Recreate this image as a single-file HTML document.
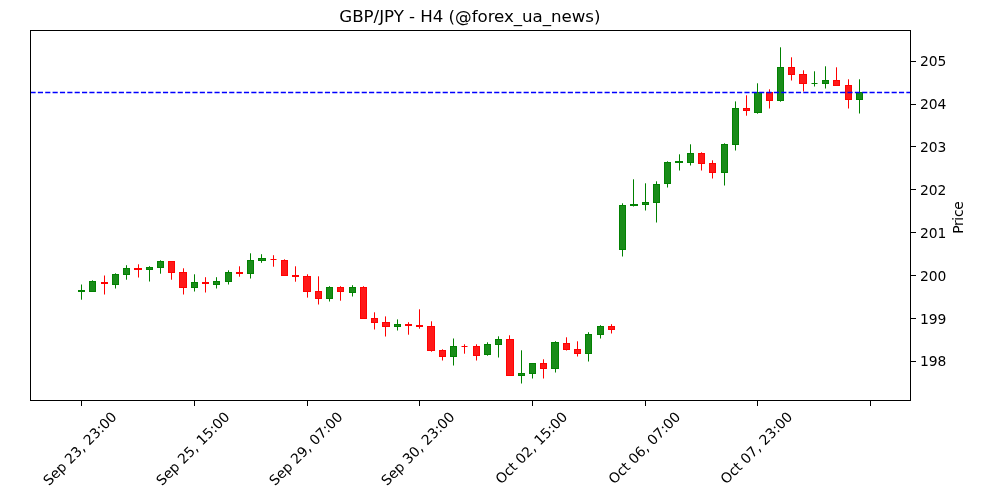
<!DOCTYPE html>
<html lang="en">
<head>
<meta charset="utf-8">
<title>GBP/JPY - H4 (@forex_ua_news)</title>
<style>html,body{margin:0;padding:0;background:#fff;}body{width:1000px;height:500px;overflow:hidden;}</style>
</head>
<body>
<svg width="1000" height="500" viewBox="0 0 1000 500" style="display:block">
<rect x="0" y="0" width="1000" height="500" fill="#ffffff"/>
<g>
<rect x="81" y="284.5" width="1" height="15.2" fill="#008000"/>
<rect x="92" y="280.3" width="1" height="11.7" fill="#008000"/>
<rect x="104" y="275.5" width="1" height="19" fill="#ff0000"/>
<rect x="115" y="273.3" width="1" height="15.2" fill="#008000"/>
<rect x="126" y="265.2" width="1" height="14.5" fill="#008000"/>
<rect x="138" y="264.3" width="1" height="13.2" fill="#ff0000"/>
<rect x="149" y="266.2" width="1" height="15.3" fill="#008000"/>
<rect x="160" y="260.3" width="1" height="13.4" fill="#008000"/>
<rect x="171" y="261" width="1" height="18.7" fill="#ff0000"/>
<rect x="183" y="268.3" width="1" height="26.2" fill="#ff0000"/>
<rect x="194" y="274.3" width="1" height="17.2" fill="#008000"/>
<rect x="205" y="277.2" width="1" height="15.3" fill="#ff0000"/>
<rect x="216" y="277.2" width="1" height="11.3" fill="#008000"/>
<rect x="228" y="270.3" width="1" height="14.2" fill="#008000"/>
<rect x="239" y="266.3" width="1" height="10.4" fill="#ff0000"/>
<rect x="250" y="253.3" width="1" height="25.2" fill="#008000"/>
<rect x="261" y="254.2" width="1" height="8.6" fill="#008000"/>
<rect x="273" y="255.2" width="1" height="11.5" fill="#ff0000"/>
<rect x="270.5" y="259" width="6" height="1" fill="#ff0202"/>
<rect x="284" y="259.3" width="1" height="16.7" fill="#ff0000"/>
<rect x="295" y="266.3" width="1" height="15.4" fill="#ff0000"/>
<rect x="307" y="274.3" width="1" height="23.3" fill="#ff0000"/>
<rect x="318" y="276.3" width="1" height="28.2" fill="#ff0000"/>
<rect x="329" y="286.2" width="1" height="15.3" fill="#008000"/>
<rect x="340" y="286.2" width="1" height="14.5" fill="#ff0000"/>
<rect x="352" y="285.2" width="1" height="11.3" fill="#008000"/>
<rect x="363" y="286.2" width="1" height="32.8" fill="#ff0000"/>
<rect x="374" y="312.3" width="1" height="17.2" fill="#ff0000"/>
<rect x="385" y="316.4" width="1" height="20.1" fill="#ff0000"/>
<rect x="397" y="319.4" width="1" height="11.1" fill="#008000"/>
<rect x="408" y="322.2" width="1" height="12.5" fill="#ff0000"/>
<rect x="419" y="309.3" width="1" height="19.4" fill="#ff0000"/>
<rect x="431" y="321.3" width="1" height="30.4" fill="#ff0000"/>
<rect x="442" y="349.3" width="1" height="11.2" fill="#ff0000"/>
<rect x="453" y="338.5" width="1" height="27" fill="#008000"/>
<rect x="464" y="344.3" width="1" height="9.4" fill="#ff0000"/>
<rect x="461.5" y="346" width="6" height="1" fill="#ff0202"/>
<rect x="476" y="344.3" width="1" height="16.2" fill="#ff0000"/>
<rect x="487" y="342.3" width="1" height="13.4" fill="#008000"/>
<rect x="498" y="336.3" width="1" height="21.2" fill="#008000"/>
<rect x="509" y="335.3" width="1" height="40.7" fill="#ff0000"/>
<rect x="521" y="350.3" width="1" height="33.2" fill="#008000"/>
<rect x="532" y="363" width="1" height="15.5" fill="#008000"/>
<rect x="543" y="359.3" width="1" height="19.2" fill="#ff0000"/>
<rect x="555" y="341.2" width="1" height="31.3" fill="#008000"/>
<rect x="566" y="337.3" width="1" height="13.2" fill="#ff0000"/>
<rect x="577" y="341.3" width="1" height="15.2" fill="#ff0000"/>
<rect x="588" y="332.2" width="1" height="29.3" fill="#008000"/>
<rect x="600" y="325.2" width="1" height="13.3" fill="#008000"/>
<rect x="611" y="324.2" width="1" height="9.3" fill="#ff0000"/>
<rect x="622" y="203.3" width="1" height="53.2" fill="#008000"/>
<rect x="633" y="179.3" width="1" height="27.2" fill="#008000"/>
<rect x="645" y="183.3" width="1" height="27.2" fill="#008000"/>
<rect x="656" y="181.3" width="1" height="41.2" fill="#008000"/>
<rect x="667" y="161.3" width="1" height="26.2" fill="#008000"/>
<rect x="679" y="154.3" width="1" height="16.2" fill="#008000"/>
<rect x="690" y="144.3" width="1" height="21.2" fill="#008000"/>
<rect x="701" y="152.3" width="1" height="18.2" fill="#ff0000"/>
<rect x="712" y="160.3" width="1" height="18.2" fill="#ff0000"/>
<rect x="724" y="143.3" width="1" height="42.2" fill="#008000"/>
<rect x="735" y="101.4" width="1" height="49.1" fill="#008000"/>
<rect x="746" y="95.3" width="1" height="20.4" fill="#ff0000"/>
<rect x="757" y="83.3" width="1" height="30.4" fill="#008000"/>
<rect x="769" y="89.3" width="1" height="19.2" fill="#ff0000"/>
<rect x="780" y="47.3" width="1" height="54.4" fill="#008000"/>
<rect x="791" y="57.3" width="1" height="23.2" fill="#ff0000"/>
<rect x="803" y="70.3" width="1" height="21.2" fill="#ff0000"/>
<rect x="814" y="71.3" width="1" height="15.2" fill="#008000"/>
<rect x="811.5" y="83" width="6" height="1" fill="#028102"/>
<rect x="825" y="66.3" width="1" height="22.2" fill="#008000"/>
<rect x="836" y="67.3" width="1" height="18.7" fill="#ff0000"/>
<rect x="848" y="79.3" width="1" height="29.2" fill="#ff0000"/>
<rect x="859" y="79.3" width="1" height="34.2" fill="#008000"/>
</g>
<g shape-rendering="crispEdges">
<rect x="78" y="290" width="7" height="2" fill="#028102"/>
<rect x="89" y="281" width="7" height="11" fill="#028102"/>
<rect x="90" y="282" width="5" height="9" fill="#198c19"/>
<rect x="101" y="282" width="7" height="2" fill="#ff0202"/>
<rect x="112" y="274" width="7" height="11" fill="#028102"/>
<rect x="113" y="275" width="5" height="9" fill="#198c19"/>
<rect x="123" y="268" width="7" height="7" fill="#028102"/>
<rect x="124" y="269" width="5" height="5" fill="#198c19"/>
<rect x="134" y="268" width="8" height="2" fill="#ff0202"/>
<rect x="146" y="267" width="7" height="3" fill="#028102"/>
<rect x="147" y="268" width="5" height="1" fill="#198c19"/>
<rect x="157" y="261" width="7" height="7" fill="#028102"/>
<rect x="158" y="262" width="5" height="5" fill="#198c19"/>
<rect x="168" y="261" width="7" height="12" fill="#ff0202"/>
<rect x="169" y="262" width="5" height="10" fill="#ff1919"/>
<rect x="179" y="272" width="8" height="16" fill="#ff0202"/>
<rect x="180" y="273" width="6" height="14" fill="#ff1919"/>
<rect x="191" y="282" width="7" height="6" fill="#028102"/>
<rect x="192" y="283" width="5" height="4" fill="#198c19"/>
<rect x="202" y="282" width="7" height="2" fill="#ff0202"/>
<rect x="213" y="281" width="7" height="4" fill="#028102"/>
<rect x="214" y="282" width="5" height="2" fill="#198c19"/>
<rect x="225" y="272" width="7" height="10" fill="#028102"/>
<rect x="226" y="273" width="5" height="8" fill="#198c19"/>
<rect x="236" y="272" width="7" height="2" fill="#ff0202"/>
<rect x="247" y="260" width="7" height="14" fill="#028102"/>
<rect x="248" y="261" width="5" height="12" fill="#198c19"/>
<rect x="258" y="258" width="8" height="3" fill="#028102"/>
<rect x="259" y="259" width="6" height="1" fill="#198c19"/>
<rect x="281" y="260" width="7" height="16" fill="#ff0202"/>
<rect x="282" y="261" width="5" height="14" fill="#ff1919"/>
<rect x="292" y="275" width="7" height="2" fill="#ff0202"/>
<rect x="303" y="276" width="8" height="16" fill="#ff0202"/>
<rect x="304" y="277" width="6" height="14" fill="#ff1919"/>
<rect x="315" y="291" width="7" height="8" fill="#ff0202"/>
<rect x="316" y="292" width="5" height="6" fill="#ff1919"/>
<rect x="326" y="287" width="7" height="12" fill="#028102"/>
<rect x="327" y="288" width="5" height="10" fill="#198c19"/>
<rect x="337" y="287" width="7" height="5" fill="#ff0202"/>
<rect x="338" y="288" width="5" height="3" fill="#ff1919"/>
<rect x="349" y="287" width="7" height="6" fill="#028102"/>
<rect x="350" y="288" width="5" height="4" fill="#198c19"/>
<rect x="360" y="287" width="7" height="32" fill="#ff0202"/>
<rect x="361" y="288" width="5" height="30" fill="#ff1919"/>
<rect x="371" y="318" width="7" height="5" fill="#ff0202"/>
<rect x="372" y="319" width="5" height="3" fill="#ff1919"/>
<rect x="382" y="322" width="8" height="5" fill="#ff0202"/>
<rect x="383" y="323" width="6" height="3" fill="#ff1919"/>
<rect x="394" y="324" width="7" height="3" fill="#028102"/>
<rect x="395" y="325" width="5" height="1" fill="#198c19"/>
<rect x="405" y="324" width="7" height="2" fill="#ff0202"/>
<rect x="416" y="325" width="7" height="2" fill="#ff0202"/>
<rect x="427" y="326" width="8" height="25" fill="#ff0202"/>
<rect x="428" y="327" width="6" height="23" fill="#ff1919"/>
<rect x="439" y="350" width="7" height="7" fill="#ff0202"/>
<rect x="440" y="351" width="5" height="5" fill="#ff1919"/>
<rect x="450" y="346" width="7" height="11" fill="#028102"/>
<rect x="451" y="347" width="5" height="9" fill="#198c19"/>
<rect x="473" y="346" width="7" height="10" fill="#ff0202"/>
<rect x="474" y="347" width="5" height="8" fill="#ff1919"/>
<rect x="484" y="344" width="7" height="11" fill="#028102"/>
<rect x="485" y="345" width="5" height="9" fill="#198c19"/>
<rect x="495" y="339" width="7" height="6" fill="#028102"/>
<rect x="496" y="340" width="5" height="4" fill="#198c19"/>
<rect x="506" y="339" width="8" height="37" fill="#ff0202"/>
<rect x="507" y="340" width="6" height="35" fill="#ff1919"/>
<rect x="518" y="373" width="7" height="3" fill="#028102"/>
<rect x="519" y="374" width="5" height="1" fill="#198c19"/>
<rect x="529" y="363" width="7" height="11" fill="#028102"/>
<rect x="530" y="364" width="5" height="9" fill="#198c19"/>
<rect x="540" y="363" width="7" height="6" fill="#ff0202"/>
<rect x="541" y="364" width="5" height="4" fill="#ff1919"/>
<rect x="551" y="342" width="8" height="27" fill="#028102"/>
<rect x="552" y="343" width="6" height="25" fill="#198c19"/>
<rect x="563" y="343" width="7" height="7" fill="#ff0202"/>
<rect x="564" y="344" width="5" height="5" fill="#ff1919"/>
<rect x="574" y="349" width="7" height="5" fill="#ff0202"/>
<rect x="575" y="350" width="5" height="3" fill="#ff1919"/>
<rect x="585" y="334" width="7" height="20" fill="#028102"/>
<rect x="586" y="335" width="5" height="18" fill="#198c19"/>
<rect x="597" y="326" width="7" height="9" fill="#028102"/>
<rect x="598" y="327" width="5" height="7" fill="#198c19"/>
<rect x="608" y="326" width="7" height="4" fill="#ff0202"/>
<rect x="609" y="327" width="5" height="2" fill="#ff1919"/>
<rect x="619" y="205" width="7" height="45" fill="#028102"/>
<rect x="620" y="206" width="5" height="43" fill="#198c19"/>
<rect x="630" y="204" width="8" height="2" fill="#028102"/>
<rect x="642" y="202" width="7" height="3" fill="#028102"/>
<rect x="643" y="203" width="5" height="1" fill="#198c19"/>
<rect x="653" y="184" width="7" height="19" fill="#028102"/>
<rect x="654" y="185" width="5" height="17" fill="#198c19"/>
<rect x="664" y="162" width="7" height="22" fill="#028102"/>
<rect x="665" y="163" width="5" height="20" fill="#198c19"/>
<rect x="675" y="161" width="8" height="2" fill="#028102"/>
<rect x="687" y="153" width="7" height="10" fill="#028102"/>
<rect x="688" y="154" width="5" height="8" fill="#198c19"/>
<rect x="698" y="153" width="7" height="11" fill="#ff0202"/>
<rect x="699" y="154" width="5" height="9" fill="#ff1919"/>
<rect x="709" y="163" width="7" height="10" fill="#ff0202"/>
<rect x="710" y="164" width="5" height="8" fill="#ff1919"/>
<rect x="721" y="144" width="7" height="29" fill="#028102"/>
<rect x="722" y="145" width="5" height="27" fill="#198c19"/>
<rect x="732" y="108" width="7" height="37" fill="#028102"/>
<rect x="733" y="109" width="5" height="35" fill="#198c19"/>
<rect x="743" y="108" width="7" height="3" fill="#ff0202"/>
<rect x="744" y="109" width="5" height="1" fill="#ff1919"/>
<rect x="754" y="92" width="8" height="21" fill="#028102"/>
<rect x="755" y="93" width="6" height="19" fill="#198c19"/>
<rect x="766" y="92" width="7" height="9" fill="#ff0202"/>
<rect x="767" y="93" width="5" height="7" fill="#ff1919"/>
<rect x="777" y="67" width="7" height="34" fill="#028102"/>
<rect x="778" y="68" width="5" height="32" fill="#198c19"/>
<rect x="788" y="67" width="7" height="8" fill="#ff0202"/>
<rect x="789" y="68" width="5" height="6" fill="#ff1919"/>
<rect x="799" y="74" width="8" height="10" fill="#ff0202"/>
<rect x="800" y="75" width="6" height="8" fill="#ff1919"/>
<rect x="822" y="80" width="7" height="4" fill="#028102"/>
<rect x="823" y="81" width="5" height="2" fill="#198c19"/>
<rect x="833" y="80" width="7" height="6" fill="#ff0202"/>
<rect x="834" y="81" width="5" height="4" fill="#ff1919"/>
<rect x="845" y="85" width="7" height="15" fill="#ff0202"/>
<rect x="846" y="86" width="5" height="13" fill="#ff1919"/>
<rect x="856" y="92" width="7" height="8" fill="#028102"/>
<rect x="857" y="93" width="5" height="6" fill="#198c19"/>
</g>
<line x1="30.5" y1="92.45" x2="910.5" y2="92.45" stroke="#0000ff" stroke-width="1.39" stroke-dasharray="5.14 2.22"/>
<rect x="30.5" y="30.5" width="880" height="370" fill="none" stroke="#000" stroke-width="1" shape-rendering="crispEdges"/>
<g shape-rendering="crispEdges"><rect x="81" y="401" width="1" height="5" fill="#000"/><rect x="194" y="401" width="1" height="5" fill="#000"/><rect x="307" y="401" width="1" height="5" fill="#000"/><rect x="419" y="401" width="1" height="5" fill="#000"/><rect x="532" y="401" width="1" height="5" fill="#000"/><rect x="645" y="401" width="1" height="5" fill="#000"/><rect x="757" y="401" width="1" height="5" fill="#000"/><rect x="870" y="401" width="1" height="5" fill="#000"/><rect x="911" y="361" width="5" height="1" fill="#000"/><rect x="911" y="318" width="5" height="1" fill="#000"/><rect x="911" y="275" width="5" height="1" fill="#000"/><rect x="911" y="232" width="5" height="1" fill="#000"/><rect x="911" y="189" width="5" height="1" fill="#000"/><rect x="911" y="146" width="5" height="1" fill="#000"/><rect x="911" y="104" width="5" height="1" fill="#000"/><rect x="911" y="61" width="5" height="1" fill="#000"/></g>
<text x="919.9" y="365.80" font-family="'DejaVu Sans', 'Liberation Sans', sans-serif" font-size="13.89" fill="#000">198</text>
<text x="919.9" y="323.80" font-family="'DejaVu Sans', 'Liberation Sans', sans-serif" font-size="13.89" fill="#000">199</text>
<text x="919.9" y="280.80" font-family="'DejaVu Sans', 'Liberation Sans', sans-serif" font-size="13.89" fill="#000">200</text>
<text x="919.9" y="237.80" font-family="'DejaVu Sans', 'Liberation Sans', sans-serif" font-size="13.89" fill="#000">201</text>
<text x="919.9" y="194.80" font-family="'DejaVu Sans', 'Liberation Sans', sans-serif" font-size="13.89" fill="#000">202</text>
<text x="919.9" y="151.80" font-family="'DejaVu Sans', 'Liberation Sans', sans-serif" font-size="13.89" fill="#000">203</text>
<text x="919.9" y="108.80" font-family="'DejaVu Sans', 'Liberation Sans', sans-serif" font-size="13.89" fill="#000">204</text>
<text x="919.9" y="65.80" font-family="'DejaVu Sans', 'Liberation Sans', sans-serif" font-size="13.89" fill="#000">205</text>
<text transform="translate(963.0,217.7) rotate(-90)" text-anchor="middle" letter-spacing="-0.3" font-family="'DejaVu Sans', 'Liberation Sans', sans-serif" font-size="13.89" fill="#000">Price</text>
<text x="469.9" y="22" text-anchor="middle" letter-spacing="-0.04" font-family="'DejaVu Sans', 'Liberation Sans', sans-serif" font-size="16.67" fill="#000">GBP/JPY - H4 (@forex_ua_news)</text>
<text transform="translate(83.30,452.00) rotate(-45)" text-anchor="middle" font-family="'DejaVu Sans', 'Liberation Sans', sans-serif" font-size="13.89" fill="#000">Sep 23, 23:00</text>
<text transform="translate(196.30,452.00) rotate(-45)" text-anchor="middle" font-family="'DejaVu Sans', 'Liberation Sans', sans-serif" font-size="13.89" fill="#000">Sep 25, 15:00</text>
<text transform="translate(309.30,452.00) rotate(-45)" text-anchor="middle" font-family="'DejaVu Sans', 'Liberation Sans', sans-serif" font-size="13.89" fill="#000">Sep 29, 07:00</text>
<text transform="translate(421.30,452.00) rotate(-45)" text-anchor="middle" font-family="'DejaVu Sans', 'Liberation Sans', sans-serif" font-size="13.89" fill="#000">Sep 30, 23:00</text>
<text transform="translate(534.70,451.25) rotate(-45)" text-anchor="middle" font-family="'DejaVu Sans', 'Liberation Sans', sans-serif" font-size="13.89" fill="#000">Oct 02, 15:00</text>
<text transform="translate(647.70,451.25) rotate(-45)" text-anchor="middle" font-family="'DejaVu Sans', 'Liberation Sans', sans-serif" font-size="13.89" fill="#000">Oct 06, 07:00</text>
<text transform="translate(759.70,451.25) rotate(-45)" text-anchor="middle" font-family="'DejaVu Sans', 'Liberation Sans', sans-serif" font-size="13.89" fill="#000">Oct 07, 23:00</text>
</svg>
</body>
</html>
